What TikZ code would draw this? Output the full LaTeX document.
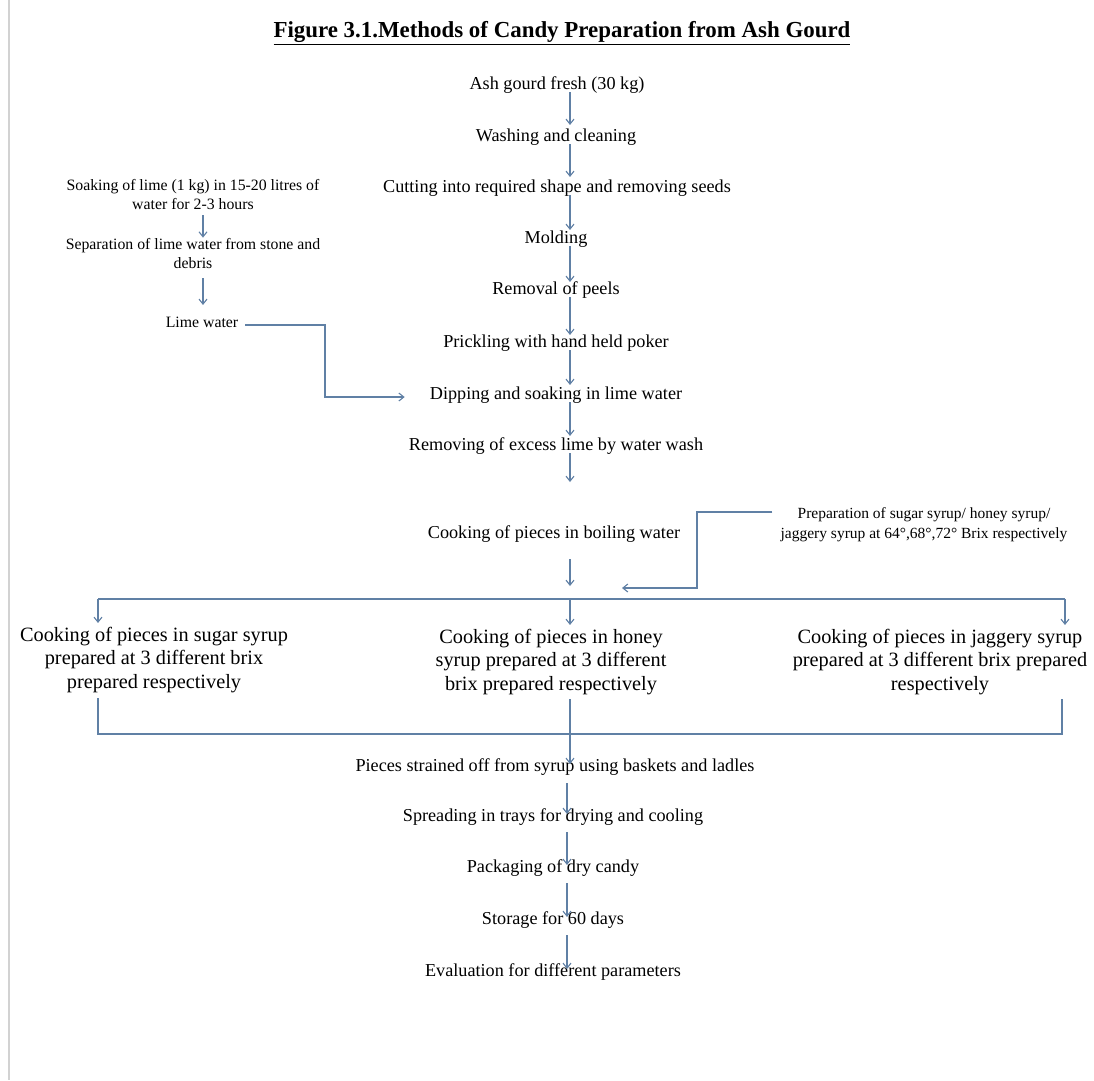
\documentclass[tikz,border=0pt]{standalone}
\usepackage{fontspec}
\setmainfont{Liberation Serif}
\usepackage{tikz}
\usetikzlibrary{arrows.meta}
\definecolor{flowblue}{RGB}{96,128,165}

\begin{document}
\begin{tikzpicture}[x=1pt,y=-1pt,
    stage/.style={inner sep=0pt, text height=0.72em, text depth=0.25em, font=\fontsize{18.2}{22}\selectfont},
    side/.style={inner sep=0pt, align=center, font=\fontsize{15.8}{19}\selectfont},
    branch/.style={inner sep=0pt, align=center, font=\fontsize{20.3}{23.5}\selectfont},
    link/.style={draw=flowblue, line width=1.1pt},
    flow/.style={link, -{Straight Barb[length=5pt,width=8pt]}}]
\useasboundingbox (0,0) rectangle (1094,1080);
\fill[white] (0,0) rectangle (1094,1080);
\draw[gray!35, line width=2pt] (9,0) -- (9,1080);

\node (title) at (562,33) {\fontsize{22.9}{26}\selectfont\bfseries\underline{Figure 3.1.Methods of Candy Preparation from Ash Gourd}};

\node[stage] (ash) at (557,87) {Ash gourd fresh (30 kg)};
\node[stage] (wash) at (556,139) {Washing and cleaning};
\node[stage] (cut) at (557,190) {Cutting into required shape and removing seeds};
\node[stage] (mold) at (556,241) {Molding};
\node[stage] (peel) at (556,292) {Removal of peels};
\node[stage] (poke) at (556,345) {Prickling with hand held poker};
\node[stage] (dip) at (556,397) {Dipping and soaking in lime water};
\node[stage] (rinse) at (556,448) {Removing of excess lime by water wash};
\node[stage] (boil) at (554,536) {Cooking of pieces in boiling water};

\node[side] (soak) at (193,195) {Soaking of lime (1 kg) in 15-20 litres of\\water for 2-3 hours};
\node[side] (sep) at (193,254) {Separation of lime water from stone and\\debris};
\node[side, text height=0.72em, text depth=0.25em] (lime) at (202,325) {Lime water};

\node[inner sep=0pt, align=center, font=\fontsize{15.5}{20}\selectfont] (prep) at (924,525) {Preparation of sugar syrup/ honey syrup/\\jaggery syrup at 64°,68°,72° Brix respectively};

\node[branch] (sugar) at (154,660) {Cooking of pieces in sugar syrup\\prepared at 3 different brix\\prepared respectively};
\node[branch] (honey) at (551,662) {Cooking of pieces in honey\\syrup prepared at 3 different\\brix prepared respectively};
\node[branch] (jaggery) at (940,662) {Cooking of pieces in jaggery syrup\\prepared at 3 different brix prepared\\respectively};

\node[stage] (strain) at (555,769) {Pieces strained off from syrup using baskets and ladles};
\node[stage] (spread) at (553,819) {Spreading in trays for drying and cooling};
\node[stage] (pack) at (553,870) {Packaging of dry candy};
\node[stage] (store) at (553,922) {Storage for 60 days};
\node[stage] (eval) at (553,974) {Evaluation for different parameters};

\coordinate (ax) at (570,0);
\coordinate (bx) at (567,0);
\coordinate (lx) at (203,0);
\coordinate (kx) at (325,0);

\draw[flow, shorten >=9pt] (ash.south -| ax) -- (wash.north -| ax);
\draw[flow, shorten >=8pt] (wash.south -| ax) -- (cut.north -| ax);
\draw[flow, shorten >=6pt] (cut.south -| ax) -- (mold.north -| ax);
\draw[flow, shorten >=5pt] (mold.south -| ax) -- (peel.north -| ax);
\draw[flow, shorten >=5pt] (peel.south -| ax) -- (poke.north -| ax);
\draw[flow, shorten >=7pt] (poke.south -| ax) -- (dip.north -| ax);
\draw[flow, shorten >=7pt] (dip.south -| ax) -- (rinse.north -| ax);

\coordinate (r1) at (570,482);
\draw[flow] (rinse.south -| ax) -- (r1);
\coordinate (r2) at (570,586);
\draw[flow, shorten <=18pt] (boil.south -| ax) -- (r2);

\draw[flow, shorten <=5pt, shorten >=1pt] (soak.south -| lx) -- (sep.north -| lx);
\draw[flow, shorten <=9pt, shorten >=15pt] (sep.south -| lx) -- (lime.north -| lx);
\draw[flow, shorten <=7pt, shorten >=25pt] (lime.east) -| (kx |- dip.west) -- (dip.west);

\coordinate (p1) at (697,588);
\coordinate (p2) at (622,588);
\draw[flow] ([shift={(-8,-13)}]prep.west) -| (p1) -- (p2);

\coordinate (t1) at (98,599);
\coordinate (t2) at (570,599);
\coordinate (t3) at (1065,599);
\draw[link] (t1) -- (t3);
\draw[flow, shorten >=4pt] (t1) -- (t1 |- sugar.north);
\draw[flow, shorten >=4pt] (t2) -- (t2 |- honey.north);
\draw[flow, shorten >=4pt] (t3) -- (t3 |- jaggery.north);

\coordinate (b1) at (98,734);
\coordinate (b2) at (570,734);
\coordinate (b3) at (1062,734);
\draw[link, shorten <=5pt, shorten >=4pt] (b1 |- sugar.south) -- (b1) -- (b3) -- (b3 |- jaggery.south);
\draw[flow, shorten <=4pt] (b2 |- honey.south) -- (b2 |- strain.north);

\draw[flow, shorten <=9pt] (strain.south -| bx) -- (spread.north -| bx);
\draw[flow, shorten <=8pt] (spread.south -| bx) -- (pack.north -| bx);
\draw[flow, shorten <=8pt] (pack.south -| bx) -- (store.north -| bx);
\draw[flow, shorten <=8pt] (store.south -| bx) -- (eval.north -| bx);

\end{tikzpicture}
\end{document}
